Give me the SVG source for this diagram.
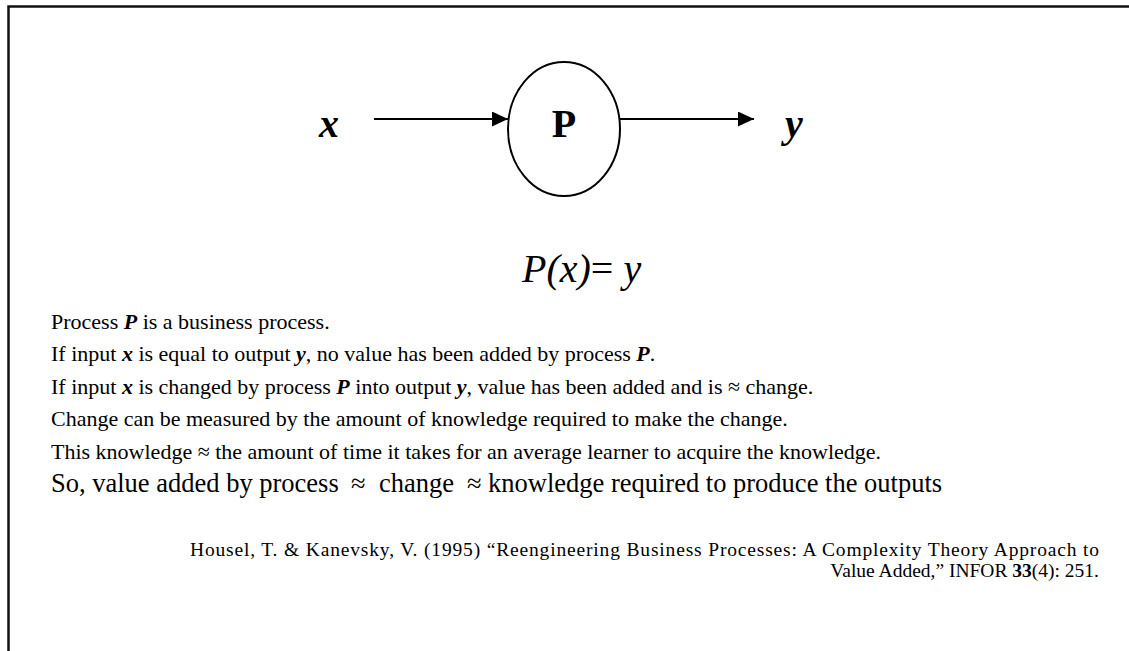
<svg xmlns="http://www.w3.org/2000/svg" width="1129" height="651" viewBox="0 0 1129 651">
<style>
text{font-family:"Liberation Serif","Times New Roman",serif;fill:#000}
.big{font-size:40px}
.body{font-size:22px}
.cite{font-size:19.5px}
.bi{font-weight:bold;font-style:italic}
.conn{stroke:#000;stroke-width:2;fill:none}
</style>
<defs>
<marker id="ah" viewBox="0 0 16 15" refX="16" refY="7.5" markerWidth="16" markerHeight="15" markerUnits="userSpaceOnUse" orient="auto">
<path d="M0,0 L16,7.5 L0,15 Z" fill="#000"/>
</marker>
</defs>
<rect x="0" y="0" width="1129" height="651" fill="#fff"/>
<path d="M8.5,651 V6.5 H1129" fill="none" stroke="#111" stroke-width="2.5"/>
<g id="node-x"><text x="319" y="137" class="big bi">x</text></g>
<g id="node-P">
<ellipse cx="564" cy="129" rx="56" ry="67" fill="#fff" stroke="#000" stroke-width="2"/>
<text x="564" y="137" class="big" font-weight="bold" text-anchor="middle">P</text>
</g>
<g id="node-y"><text x="785" y="137" class="big bi">y</text></g>
<g id="connectors">
<line class="conn" x1="374" y1="119" x2="508" y2="119" marker-end="url(#ah)"/>
<line class="conn" x1="620" y1="119" x2="754" y2="119" marker-end="url(#ah)"/>
</g>
<text x="522" y="282" class="big"><tspan font-style="italic">P(x)</tspan>= <tspan font-style="italic">y</tspan></text>
<g class="body">
<text x="51" y="329">Process <tspan class="bi">P</tspan> is a business process.</text>
<text x="51" y="361">If input <tspan class="bi">x</tspan> is equal to output <tspan class="bi">y</tspan>, no value has been added by process <tspan class="bi">P</tspan>.</text>
<text x="51" y="394">If input <tspan class="bi">x</tspan> is changed by process <tspan class="bi">P</tspan> into output <tspan class="bi">y</tspan>, value has been added and is ≈ change.</text>
<text x="51" y="426">Change can be measured by the amount of knowledge required to make the change.</text>
<text x="51" y="459">This knowledge ≈ the amount of time it takes for an average learner to acquire the knowledge.</text>
<text x="51" y="492" font-size="26.5">So, value added by process <tspan x="351">≈</tspan><tspan x="379">change</tspan><tspan x="467">≈</tspan><tspan x="488">knowledge required to produce the outputs</tspan></text>
</g>
<g class="cite">
<text x="190" y="556" textLength="909" lengthAdjust="spacing">Housel, T. &amp; Kanevsky, V. (1995) “Reengineering Business Processes: A Complexity Theory Approach to</text>
<text x="1099" y="577" text-anchor="end">Value Added,” INFOR <tspan font-weight="bold">33</tspan>(4): 251.</text>
</g>
</svg>
